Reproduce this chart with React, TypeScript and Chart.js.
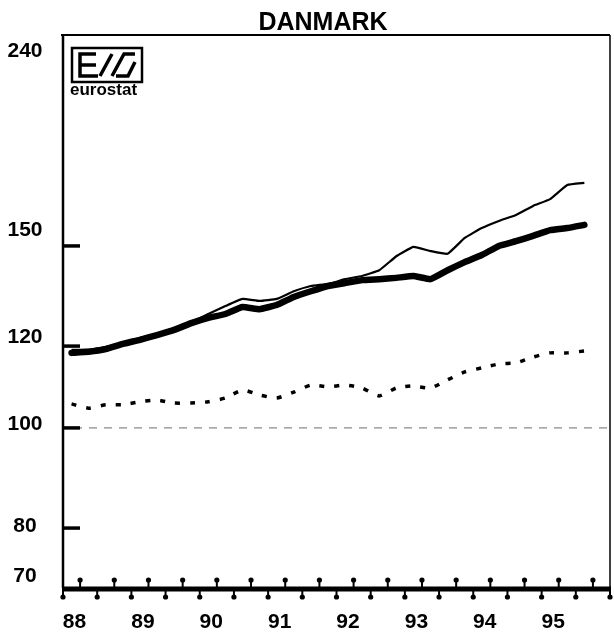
import React, { useEffect, useRef } from 'react';
import { Chart, registerables } from 'chart.js';

Chart.register(...registerables);

const TITLE = 'DANMARK';
const LOGO_TEXT = 'eurostat';

const QUARTERS = [
  '88Q1', '88Q2', '88Q3', '88Q4',
  '89Q1', '89Q2', '89Q3', '89Q4',
  '90Q1', '90Q2', '90Q3', '90Q4',
  '91Q1', '91Q2', '91Q3', '91Q4',
  '92Q1', '92Q2', '92Q3', '92Q4',
  '93Q1', '93Q2', '93Q3', '93Q4',
  '94Q1', '94Q2', '94Q3', '94Q4',
  '95Q1', '95Q2', '95Q3',
];

// thick line
const SERIES_THICK = [
  118.2, 118.5, 119.2, 120.6, 121.7, 123.0, 124.4, 126.3,
  127.8, 128.9, 130.9, 130.3, 131.5, 133.9, 135.6, 137.2,
  138.1, 139.0, 139.3, 139.7, 140.3, 139.3, 142.1, 144.7,
  147.0, 150.0, 151.6, 153.4, 155.4, 156.1, 157.2,
];

// thin line
const SERIES_THIN = [
  119.0, 119.0, 119.8, 120.8, 122.2, 123.3, 124.9, 126.6,
  128.9, 131.2, 133.3, 132.7, 133.3, 135.6, 137.2, 137.8,
  139.3, 140.3, 142.1, 146.6, 149.7, 148.3, 147.4, 152.7,
  156.1, 158.6, 160.7, 164.0, 166.5, 171.8, 172.6,
];

// dotted line
const SERIES_DOTTED = [
  105.5, 104.5, 105.3, 105.3, 106.0, 106.4, 105.7, 105.7,
  106.0, 106.9, 108.8, 107.6, 106.9, 108.3, 110.0, 109.6,
  110.0, 109.3, 107.4, 109.3, 109.8, 109.3, 111.3, 113.3,
  114.3, 115.3, 115.6, 117.1, 118.2, 118.2, 118.7,
];

const BASE_VALUE = 100;
const Y_TICKS = [70, 80, 100, 120, 150, 240];
const X_TICKS = [88, 89, 90, 91, 92, 93, 94, 95];
const X_MIN = 88;
const X_MAX = 96;

const quarterToX = (q: string) => {
  const yr = parseInt(q.slice(0, 2), 10);
  const qq = parseInt(q.slice(3), 10);
  return yr + (qq - 0.5) / 4;
};

const toPoints = (vals: number[]) => vals.map((v, i) => ({ x: quarterToX(QUARTERS[i]), y: v }));

const FONT = 'Arial, "Liberation Sans", Helvetica, sans-serif';
const LABEL_SHIFT: Record<number, number> = { 240: 16, 150: -16, 120: -9, 100: -4, 80: -2, 70: -12 };

const decorPlugin = {
  id: 'decor',
  afterDatasetsDraw(chart: any) {
    const { ctx, chartArea: a, scales } = chart;
    const xs = scales.x;
    const ys = scales.y;
    ctx.save();
    ctx.strokeStyle = '#000';
    ctx.fillStyle = '#000';
    ctx.lineCap = 'butt';

    // frame
    ctx.lineWidth = 2;
    ctx.beginPath();
    ctx.moveTo(a.left - 2, a.top);
    ctx.lineTo(a.right, a.top);
    ctx.stroke();
    ctx.lineWidth = 1.5;
    ctx.beginPath();
    ctx.moveTo(a.right, a.top);
    ctx.lineTo(a.right, a.bottom);
    ctx.stroke();
    ctx.lineWidth = 2.5;
    ctx.beginPath();
    ctx.moveTo(a.left, a.top);
    ctx.lineTo(a.left, a.bottom);
    ctx.stroke();
    ctx.lineWidth = 5;
    ctx.beginPath();
    ctx.moveTo(a.left - 1, a.bottom + 1);
    ctx.lineTo(a.right + 1, a.bottom + 1);
    ctx.stroke();

    // y inward ticks
    ctx.lineWidth = 3.5;
    Y_TICKS.filter((v) => v > ys.min && v < ys.max).forEach((v) => {
      const py = ys.getPixelForValue(v);
      ctx.beginPath();
      ctx.moveTo(a.left, py);
      ctx.lineTo(a.left + 17, py);
      ctx.stroke();
    });

    // x quarter ticks, alternating above / below
    const nq = Math.round((xs.max - xs.min) * 4);
    ctx.lineWidth = 2;
    for (let k = 0; k <= nq; k++) {
      const px = xs.getPixelForValue(xs.min + k / 4);
      const up = k % 2 === 1;
      const y0 = a.bottom + 1;
      const y1 = up ? y0 - 9 : y0 + 8;
      ctx.beginPath();
      ctx.moveTo(px, y0);
      ctx.lineTo(px, y1);
      ctx.stroke();
      ctx.beginPath();
      ctx.arc(px, y1, 2.6, 0, Math.PI * 2);
      ctx.fill();
    }

    // y labels
    ctx.font = `bold 21px ${FONT}`;
    ctx.textAlign = 'center';
    ctx.textBaseline = 'middle';
    Y_TICKS.forEach((v) => {
      const py = ys.getPixelForValue(v) + (LABEL_SHIFT[v] || 0);
      ctx.fillText(String(v), 25, py);
    });

    // title
    ctx.font = `bold 25px ${FONT}`;
    ctx.textAlign = 'center';
    ctx.textBaseline = 'middle';
    ctx.fillText(TITLE, 323, 23);

    // eurostat logo
    const lx = a.left + 9;
    const ly = a.top + 13;
    ctx.lineWidth = 2.5;
    ctx.strokeRect(lx, ly, 70, 34);
    ctx.lineWidth = 3.5;
    ctx.beginPath();
    // E
    ctx.moveTo(lx + 24, ly + 6); ctx.lineTo(lx + 8, ly + 6);
    ctx.lineTo(lx + 8, ly + 28); ctx.lineTo(lx + 26, ly + 28);
    ctx.moveTo(lx + 8, ly + 17); ctx.lineTo(lx + 24, ly + 17);
    // slashes forming S
    ctx.moveTo(lx + 28, ly + 28); ctx.lineTo(lx + 40, ly + 6);
    ctx.moveTo(lx + 40, ly + 28); ctx.lineTo(lx + 52, ly + 6);
    ctx.lineTo(lx + 63, ly + 6);
    ctx.moveTo(lx + 44, ly + 28); ctx.lineTo(lx + 56, ly + 28);
    ctx.lineTo(lx + 63, ly + 14);
    ctx.stroke();
    ctx.font = `bold 17px ${FONT}`;
    ctx.textAlign = 'left';
    ctx.textBaseline = 'alphabetic';
    ctx.fillText(LOGO_TEXT, lx - 2, ly + 47);

    ctx.restore();
  },
};

export default function App() {
  const ref = useRef<HTMLCanvasElement | null>(null);

  useEffect(() => {
    if (!ref.current) return;
    const chart = new Chart(ref.current, {
      type: 'line',
      data: {
        datasets: [
          {
            data: [{ x: X_MIN, y: BASE_VALUE }, { x: X_MAX, y: BASE_VALUE }],
            borderColor: '#8a8a8a',
            borderWidth: 1.2,
            borderDash: [8, 7],
            borderDashOffset: 4,
            pointRadius: 0,
          },
          {
            data: toPoints(SERIES_DOTTED),
            borderColor: '#000',
            borderWidth: 3.5,
            borderDash: [5, 10],
            pointRadius: 0,
            tension: 0.2,
          },
          {
            data: toPoints(SERIES_THIN),
            borderColor: '#000',
            borderWidth: 2.2,
            pointRadius: 0,
            tension: 0.1,
            borderJoinStyle: 'round',
          },
          {
            data: toPoints(SERIES_THICK),
            borderColor: '#000',
            borderWidth: 6.5,
            pointRadius: 0,
            tension: 0.1,
            borderCapStyle: 'round',
            borderJoinStyle: 'round',
          },
        ],
      },
      options: {
        animation: false,
        responsive: false,
        maintainAspectRatio: false,
        layout: { padding: { top: 35, right: 4, left: 0, bottom: 0 } },
        plugins: { legend: { display: false }, tooltip: { enabled: false }, title: { display: false } },
        scales: {
          x: {
            type: 'linear',
            min: X_MIN,
            max: X_MAX,
            afterBuildTicks: (s: any) => { s.ticks = X_TICKS.map((v) => ({ value: v })); },
            afterFit: (s: any) => { s.height = 45; },
            grid: { display: false, drawTicks: false },
            border: { display: false },
            ticks: {
              autoSkip: false,
              maxRotation: 0,
              color: '#000',
              font: { size: 21, weight: 'bold', family: FONT },
              labelOffset: 11.5,
              padding: 22,
              callback: (v: any) => String(v),
            },
          },
          y: {
            type: 'logarithmic',
            min: Y_TICKS[0],
            max: Y_TICKS[Y_TICKS.length - 1],
            afterBuildTicks: (s: any) => { s.ticks = Y_TICKS.map((v) => ({ value: v })); },
            afterFit: (s: any) => { s.width = 63; },
            grid: { display: false, drawTicks: false },
            border: { display: false },
            ticks: { display: false },
          },
        },
      },
      plugins: [decorPlugin],
    } as any);
    return () => chart.destroy();
  }, []);

  return (
    <div style={{ position: 'absolute', left: 0, top: 0, width: 614, height: 633, background: '#fff' }}>
      <canvas ref={ref} width={614} height={633} style={{ display: 'block' }} />
    </div>
  );
}
